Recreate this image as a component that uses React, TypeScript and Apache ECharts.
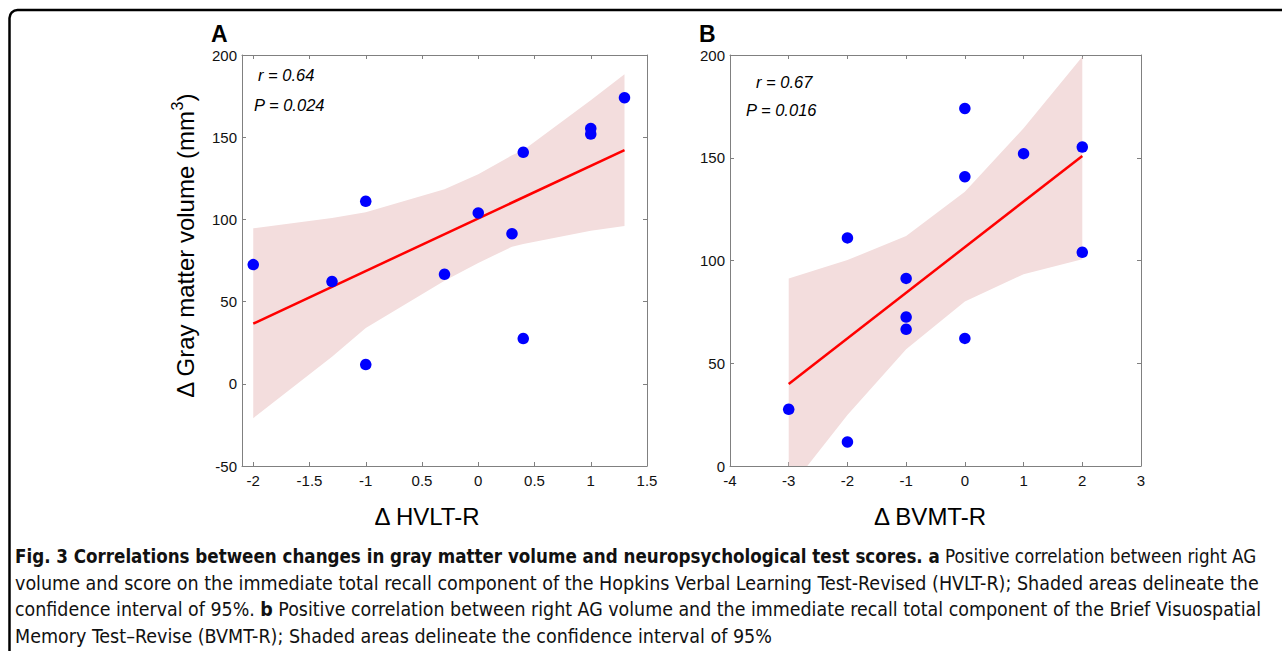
import React, { useEffect, useRef } from "react";
import * as echarts from "echarts";

// ---------- Panel A data (Δ HVLT-R vs Δ gray matter volume) ----------
const xA = [-2, -1.3, -1, -0.3, 0, 0.3, 0.4, 1, 1, 1.3, -1, 0.4];
const yA = [72.5, 62.2, 111, 66.6, 103.9, 91.3, 140.8, 155.3, 151.9, 174, 11.7, 27.5];
const fitXA = [-2, 1.3];
const fitYA = [36.6, 142.2];
const ciXA = [-2, -1.3, -1, -0.3, 0, 0.3, 0.4, 1, 1.3];
const ciUpA = [94.6, 100.8, 104.3, 118.3, 127.4, 139, 142, 172.5, 188.3];
const ciLowA = [-20.9, 16.4, 34, 62.7, 73.5, 83.4, 85, 93.1, 96];
const xTicksA = [-2, -1.5, -1, -0.5, 0, 0.5, 1, 1.5];
const xTickLabelsA = ["-2", "-1.5", "-1", "0.5", "0", "0.5", "1", "1.5"];

// ---------- Panel B data (Δ BVMT-R vs Δ gray matter volume) ----------
const xB = [0, 0, 1, 2, -2, -1, 2, -1, -1, 0, -3, -2];
const yB = [174, 140.8, 152, 155.2, 111, 91.3, 104, 72.5, 66.5, 62.1, 27.6, 11.7];
const fitXB = [-3, 2];
const fitYB = [39.9, 150.9];
const ciXB = [-3, -2, -1, 0, 1, 2];
const ciUpB = [91.3, 100.2, 111.9, 133.5, 164.3, 199.2];
const ciLowB = [-11.5, 24.8, 56.8, 80, 93.3, 100.6];

const FONT = '"Liberation Sans", Arial, Helvetica, sans-serif';
const CAP_FONT = '"Liberation Sans Narrow", "DejaVu Sans Condensed", "Liberation Sans", sans-serif';
const AXIS_GREY = "#808080";
const BAND = "#f3dddd";

function bandSeries(xs: number[], lo: number[], up: number[], xi: number, yi: number) {
  return {
    type: "custom",
    xAxisIndex: xi,
    yAxisIndex: yi,
    clip: true,
    z: 1,
    silent: true,
    data: xs.map((x, i) => [x, lo[i], up[i]]),
    encode: { x: 0, y: [1, 2] },
    renderItem: (params: any, api: any) => {
      if (params.dataIndex !== 0) return null;
      const pts: number[][] = [];
      for (let i = 0; i < xs.length; i++) pts.push(api.coord([xs[i], up[i]]));
      for (let i = xs.length - 1; i >= 0; i--) pts.push(api.coord([xs[i], lo[i]]));
      return {
        type: "polygon",
        shape: { points: pts },
        style: { fill: BAND, stroke: "none" },
      };
    },
  };
}

function axisCommon(extra: any) {
  return {
    type: "value",
    splitLine: { show: false },
    axisLine: { show: true, onZero: false, lineStyle: { color: AXIS_GREY, width: 1 } },
    axisTick: { show: true, inside: true, length: 4, lineStyle: { color: AXIS_GREY } },
    ...extra,
  };
}

const labelStyle = { color: "#111", fontSize: 15, fontFamily: FONT };

function capRich(size: number) {
  return {
    b: { fontSize: size, fontWeight: "bold", fontFamily: CAP_FONT, fill: "#111" },
    n: { fontSize: size, fontFamily: CAP_FONT, fill: "#111" },
  };
}

export default function App() {
  const ref = useRef<HTMLDivElement>(null);
  useEffect(() => {
    document.body.style.margin = "0";
    const chart = echarts.init(ref.current!, null, { renderer: "svg" });
    const fmtA = (v: number) => {
      const i = xTicksA.findIndex((t) => Math.abs(t - v) < 1e-6);
      return i >= 0 ? xTickLabelsA[i] : "";
    };
    const option: any = {
      animation: false,
      backgroundColor: "#ffffff",
      grid: [
        { left: 242, top: 55, width: 405, height: 411 },
        { left: 730, top: 55, width: 411, height: 411 },
      ],
      xAxis: [
        axisCommon({
          gridIndex: 0, position: "bottom", min: -2.1, max: 1.5,
          axisTick: { show: true, inside: true, length: 4, lineStyle: { color: AXIS_GREY }, customValues: xTicksA },
          axisLabel: { ...labelStyle, margin: 7, customValues: xTicksA, formatter: fmtA },
        }),
        axisCommon({
          gridIndex: 0, position: "top", min: -2.1, max: 1.5,
          axisTick: { show: true, inside: true, length: 4, lineStyle: { color: AXIS_GREY }, customValues: xTicksA },
          axisLabel: { show: false, customValues: xTicksA },
        }),
        axisCommon({
          gridIndex: 1, position: "bottom", min: -4, max: 3, interval: 1,
          axisLabel: { ...labelStyle, margin: 7 },
        }),
        axisCommon({
          gridIndex: 1, position: "top", min: -4, max: 3, interval: 1,
          axisLabel: { show: false },
        }),
      ],
      yAxis: [
        axisCommon({
          gridIndex: 0, position: "left", min: -50, max: 200, interval: 50,
          axisLabel: { ...labelStyle, margin: 5 },
        }),
        axisCommon({
          gridIndex: 0, position: "right", min: -50, max: 200, interval: 50,
          axisLabel: { show: false },
        }),
        axisCommon({
          gridIndex: 1, position: "left", min: 0, max: 200, interval: 50,
          axisLabel: { ...labelStyle, margin: 5 },
        }),
        axisCommon({
          gridIndex: 1, position: "right", min: 0, max: 200, interval: 50,
          axisLabel: { show: false },
        }),
      ],
      series: [
        bandSeries(ciXA, ciLowA, ciUpA, 0, 0),
        {
          type: "line", xAxisIndex: 0, yAxisIndex: 0, z: 3, symbol: "none",
          data: fitXA.map((x, i) => [x, fitYA[i]]),
          lineStyle: { color: "#ff0000", width: 2.5 },
        },
        {
          type: "scatter", xAxisIndex: 0, yAxisIndex: 0, z: 4, symbolSize: 11.5,
          data: xA.map((x, i) => [x, yA[i]]),
          itemStyle: { color: "#0000ff", opacity: 1 },
        },
        bandSeries(ciXB, ciLowB, ciUpB, 2, 2),
        {
          type: "line", xAxisIndex: 2, yAxisIndex: 2, z: 3, symbol: "none",
          data: fitXB.map((x, i) => [x, fitYB[i]]),
          lineStyle: { color: "#ff0000", width: 2.5 },
        },
        {
          type: "scatter", xAxisIndex: 2, yAxisIndex: 2, z: 4, symbolSize: 11.5,
          data: xB.map((x, i) => [x, yB[i]]),
          itemStyle: { color: "#0000ff", opacity: 1 },
        },
      ],
      graphic: [
        {
          type: "rect", z: 0, silent: true,
          shape: { x: 9.5, y: 10, width: 1400, height: 900, r: 8 },
          style: { fill: "none", stroke: "#000", lineWidth: 2.5 },
        },
        { type: "text", x: 211, y: 34, style: { text: "A", font: `bold 23px ${FONT}`, fill: "#000", align: "left", verticalAlign: "middle" } },
        { type: "text", x: 699, y: 34, style: { text: "B", font: `bold 23px ${FONT}`, fill: "#000", align: "left", verticalAlign: "middle" } },
        { type: "text", x: 258, y: 75, style: { text: "r = 0.64", font: `italic 16.5px ${FONT}`, fill: "#000", align: "left", verticalAlign: "middle" } },
        { type: "text", x: 254, y: 105, style: { text: "P = 0.024", font: `italic 16.5px ${FONT}`, fill: "#000", align: "left", verticalAlign: "middle" } },
        { type: "text", x: 756, y: 82, style: { text: "r = 0.67", font: `italic 16.5px ${FONT}`, fill: "#000", align: "left", verticalAlign: "middle" } },
        { type: "text", x: 746, y: 110, style: { text: "P = 0.016", font: `italic 16.5px ${FONT}`, fill: "#000", align: "left", verticalAlign: "middle" } },
        { type: "text", x: 427, y: 516, style: { text: "Δ HVLT-R", font: `24px ${FONT}`, fill: "#000", align: "center", verticalAlign: "middle" } },
        { type: "text", x: 930, y: 516, style: { text: "Δ BVMT-R", font: `24px ${FONT}`, fill: "#000", align: "center", verticalAlign: "middle" } },
        {
          type: "text", x: 183, y: 246, rotation: Math.PI / 2,
          style: {
            text: "{a|Δ Gray matter volume (mm}{s|3}{a|)}",
            align: "center", verticalAlign: "middle",
            rich: {
              a: { fontSize: 24, fontFamily: FONT, fill: "#000", lineHeight: 28, verticalAlign: "bottom" },
              s: { fontSize: 16, fontFamily: FONT, fill: "#000", lineHeight: 14, verticalAlign: "top" },
            },
          },
        },
        {
          type: "text", x: 15, y: 556,
          style: {
            text: "{b|Fig. 3 Correlations between changes in gray matter volume and neuropsychological test scores. a}{n| Positive correlation between right AG}",
            verticalAlign: "middle", align: "left",
            rich: capRich(18.6),
          },
        },
        {
          type: "text", x: 15, y: 583,
          style: {
            text: "volume and score on the immediate total recall component of the Hopkins Verbal Learning Test-Revised (HVLT-R); Shaded areas delineate the",
            font: `19.5px ${CAP_FONT}`, fill: "#111", verticalAlign: "middle", align: "left",
          },
        },
        {
          type: "text", x: 15, y: 609,
          style: {
            text: "{n|confidence interval of 95%. }{b|b}{n| Positive correlation between right AG volume and the immediate recall total component of the Brief Visuospatial}",
            verticalAlign: "middle", align: "left",
            rich: capRich(19.4),
          },
        },
        {
          type: "text", x: 15, y: 636,
          style: {
            text: "Memory Test–Revise (BVMT-R); Shaded areas delineate the confidence interval of 95%",
            font: `19.5px ${CAP_FONT}`, fill: "#111", verticalAlign: "middle", align: "left",
          },
        },
      ],
    };
    chart.setOption(option);
    return () => chart.dispose();
  }, []);
  return <div ref={ref} style={{ width: 1282, height: 651 }} />;
}
